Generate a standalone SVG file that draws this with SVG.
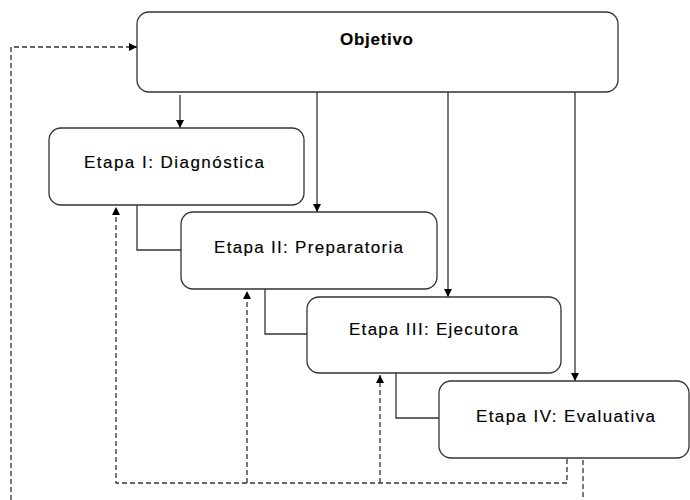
<svg xmlns="http://www.w3.org/2000/svg" width="690" height="500" viewBox="0 0 690 500">
<style>
.box{fill:#fff;stroke:#333;stroke-width:1.3}
.lbl{font-family:"Liberation Sans",Arial,sans-serif;font-size:17px;fill:#000;stroke:#000;stroke-width:0.15;text-anchor:start}
.ln{fill:none;stroke:#333;stroke-width:1.3}
.dash{fill:none;stroke:#333;stroke-width:1.3;stroke-dasharray:5,3}
</style>
<defs>
<marker id="ah" markerWidth="8" markerHeight="8" refX="8" refY="4" orient="auto" markerUnits="userSpaceOnUse">
<path d="M0,0 L8,4 L0,8 z" fill="#000"/>
</marker>
</defs>
<rect width="690" height="500" fill="#fff"/>
<g id="connectors">
<path class="ln" d="M180,95 V128" marker-end="url(#ah)"/>
<path class="ln" d="M317,92 V212" marker-end="url(#ah)"/>
<path class="ln" d="M448,92 V297" marker-end="url(#ah)"/>
<path class="ln" d="M575,92 V381" marker-end="url(#ah)"/>
<path class="ln" d="M137,205 V250 H181"/>
<path class="ln" d="M265,289 V334 H307"/>
<path class="ln" d="M396,373 V418 H439"/>
<path class="dash" d="M567,459 V483 H116 V207" marker-end="url(#ah)"/>
<path class="dash" d="M247,483 V291" marker-end="url(#ah)"/>
<path class="dash" d="M380,483 V375" marker-end="url(#ah)"/>
<path class="dash" d="M583,460 V500"/>
<path class="dash" d="M11,500 V47 H137" marker-end="url(#ah)"/>
</g>
<g id="objetivo">
<rect class="box" x="137" y="12" width="481" height="80" rx="12"/>
<text class="lbl" x="340" y="45" font-weight="bold" stroke-width="0" textLength="73" lengthAdjust="spacing">Objetivo</text>
</g>
<g id="etapa1">
<rect class="box" x="49" y="128" width="255" height="77" rx="12"/>
<text class="lbl" x="84" y="168" textLength="180" lengthAdjust="spacing">Etapa I: Diagnóstica</text>
</g>
<g id="etapa2">
<rect class="box" x="181" y="212" width="256" height="77" rx="12"/>
<text class="lbl" x="214" y="253" textLength="189" lengthAdjust="spacing">Etapa II: Preparatoria</text>
</g>
<g id="etapa3">
<rect class="box" x="307" y="297" width="254" height="76" rx="12"/>
<text class="lbl" x="349" y="335" textLength="169" lengthAdjust="spacing">Etapa III: Ejecutora</text>
</g>
<g id="etapa4">
<rect class="box" x="439" y="381" width="250" height="77" rx="12"/>
<text class="lbl" x="476" y="422" textLength="179" lengthAdjust="spacing">Etapa IV: Evaluativa</text>
</g>
</svg>
